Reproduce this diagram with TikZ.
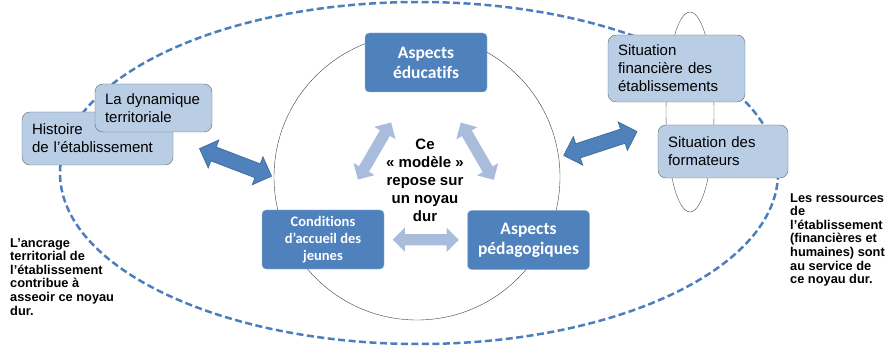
\documentclass[tikz,border=0pt]{standalone}
\usepackage{fontspec}
\setmainfont{Liberation Sans}
\newfontfamily\calibfont[Ligatures=NoCommon]{Carlito}
\usetikzlibrary{shapes.geometric,shapes.arrows}
\definecolor{darkbox}{HTML}{4F81BD}
\definecolor{darkedge}{HTML}{41719C}
\definecolor{lightbox}{HTML}{B9CDE5}
\definecolor{lightarrow}{HTML}{A9BCDB}
\definecolor{ringblue}{HTML}{4A7EBF}

\begin{document}
\begin{tikzpicture}[x=1pt,y=-1pt]
    \tikzset{
      core/.style={draw=darkedge!50, fill=darkbox, rounded corners=4pt, text=white, align=center, font=\calibfont\bfseries\fontsize{17.5}{20}\selectfont, minimum width=122pt, minimum height=59pt, inner sep=2pt},
      side/.style={draw=black!60, fill=lightbox, rounded corners=8pt, align=left, font=\fontsize{15}{18}\selectfont, inner xsep=10pt},
      note/.style={align=left, inner sep=0pt, anchor=north west, font=\bfseries\fontsize{12.8}{13.6}\selectfont},
      link/.style={double arrow, fill=lightarrow, inner xsep=0pt, inner ysep=5.5pt, double arrow head extend=6.5pt, minimum height=66pt, sloped},
      push/.style={double arrow, fill=darkbox, draw=darkedge, thick, inner xsep=0pt, inner ysep=7pt, double arrow head extend=7.5pt, minimum height=77pt, sloped}
    }
    \useasboundingbox (0,0) rectangle (890,347);
    % outer ring and inner circle
    \node [ellipse, draw=ringblue, line width=2.5pt, dash pattern=on 7pt off 3.5pt, minimum width=718pt, minimum height=342pt] (ring) at (419,173) {};
    \node [circle, draw=black!75, minimum size=286pt] (hub) at (417,177) {};
    \node [ellipse, draw=black!70, minimum width=48pt, minimum height=200pt] (pill) at (690,112) {};

    % left boxes
    \node [side, text width=131pt, minimum height=53pt] (hist) at (97.5,138.5) {Histoire\\de l’établissement};
    \node [side, text width=97pt, minimum height=48pt] (dyn) at (153.5,108) {La dynamique\\territoriale};
    % right boxes
    \node [side, text width=117pt, minimum height=67pt] (fin) at (676.5,68.5) {Situation\\financière des\\établissements};
    \node [side, text width=110pt, minimum height=53pt] (form) at (723,151.5) {Situation des\\formateurs};

    % the hard core
    \node [core] (edu) at (426,62.5) {Aspects\\éducatifs};
    \node [core, font=\calibfont\bfseries\fontsize{14.5}{17}\selectfont] (acc) at (323,239.5) {Conditions\\d’accueil des\\jeunes};
    \node [core] (peda) at (528.5,240) {Aspects\\pédagogiques};
    \node [align=center, font=\bfseries\fontsize{15}{18}\selectfont] (kernel) at (425,180) {Ce\\«~modèle~»\\repose sur\\un noyau\\dur};

    \path (acc) -- (edu) node [link, midway] {};
    \path (edu) -- (peda) node [link, midway] {};
    \path (acc) -- (peda) node [link, midway] {};
    \path (hist.east) -- (hub.west) node [push, pos=0.62] {};
    \path (hub.8) -- (form.north west) node [push, pos=0.42] {};

    % notes
    \node [note] (noteL) at (10,238) {L’ancrage\\territorial de\\l’établissement\\contribue à\\asseoir ce noyau\\dur.};
    \node [note] (noteR) at (790,193) {Les ressources\\de\\l’établissement\\(financières et\\humaines) sont\\au service de\\ce noyau dur.};
\end{tikzpicture}
\end{document}
